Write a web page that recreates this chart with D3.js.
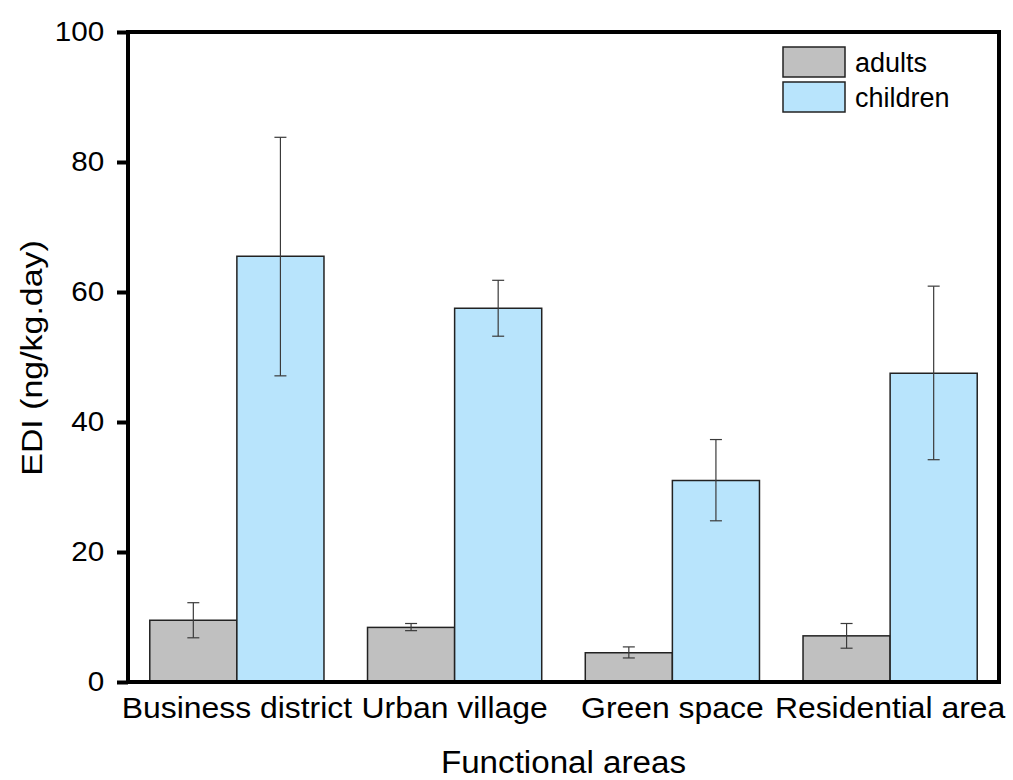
<!DOCTYPE html>
<html>
<head>
<meta charset="utf-8">
<script src="https://cdn.jsdelivr.net/npm/d3@7"></script>
<style>
  html, body { margin: 0; padding: 0; background: #fff; }
  svg { display: block; font-family: "Liberation Sans", Arial, sans-serif; }
</style>
</head>
<body>
<svg id="chart" width="1013" height="780"></svg>
<script>
// EDI by functional area, adults vs children (mean with lower/upper error bounds)
const categories = ["Business district", "Urban village", "Green space", "Residential area"];
const seriesNames = ["adults", "children"];
const adultsMean = [9.5, 8.4, 4.5, 7.1];
const adultsLow  = [6.8, 7.9, 3.7, 5.2];
const adultsHigh = [12.2, 9.0, 5.4, 9.0];
const childrenMean = [65.5, 57.5, 31.0, 47.5];
const childrenLow  = [47.1, 53.2, 24.8, 34.2];
const childrenHigh = [83.8, 61.8, 37.3, 60.9];
const yTicks = [0, 20, 40, 60, 80, 100];

const colors = { adults: "#c0c0c0", children: "#b8e4fc" };
const FONT = "Liberation Sans, Arial, sans-serif";

const margin = { left: 128, right: 14, top: 32, bottom: 98 };
const W = 1013, H = 780;
const svg = d3.select("#chart");

const x0 = d3.scaleBand().domain(categories)
  .range([margin.left, W - margin.right]).paddingInner(0).paddingOuter(0);
const x1 = d3.scaleBand().domain(seriesNames)
  .range([0, x0.bandwidth()]).paddingInner(0).paddingOuter(0.25);
const y = d3.scaleLinear().domain([0, 100]).range([H - margin.bottom, margin.top]);

const rows = categories.map((c, i) => ({
  cat: c,
  vals: [
    { key: "adults", v: adultsMean[i], lo: adultsLow[i], hi: adultsHigh[i] },
    { key: "children", v: childrenMean[i], lo: childrenLow[i], hi: childrenHigh[i] }
  ]
}));

// bars
const groups = svg.append("g").selectAll("g").data(rows).join("g")
  .attr("transform", d => `translate(${x0(d.cat)},0)`);

groups.selectAll("rect").data(d => d.vals).join("rect")
  .attr("x", d => x1(d.key))
  .attr("y", d => y(d.v))
  .attr("width", x1.bandwidth())
  .attr("height", d => y(0) - y(d.v))
  .attr("fill", d => colors[d.key])
  .attr("stroke", "#222")
  .attr("stroke-width", 1.5);

// error bars
const capHalf = 6;
const cx = d => x1(d.key) + x1.bandwidth() / 2;
const eb = groups.selectAll("g.err").data(d => d.vals).join("g").attr("class", "err")
  .attr("stroke", "#3a3a3a").attr("stroke-width", 1.2);
eb.append("line")
  .attr("x1", cx).attr("x2", cx)
  .attr("y1", d => y(d.lo)).attr("y2", d => y(d.hi));
eb.append("line")
  .attr("x1", d => cx(d) - capHalf).attr("x2", d => cx(d) + capHalf)
  .attr("y1", d => y(d.hi)).attr("y2", d => y(d.hi));
eb.append("line")
  .attr("x1", d => cx(d) - capHalf).attr("x2", d => cx(d) + capHalf)
  .attr("y1", d => y(d.lo)).attr("y2", d => y(d.lo));

// frame
svg.append("rect")
  .attr("x", margin.left).attr("y", margin.top)
  .attr("width", W - margin.right - margin.left)
  .attr("height", H - margin.bottom - margin.top)
  .attr("fill", "none").attr("stroke", "#000").attr("stroke-width", 4);

// y axis
const yAxis = svg.append("g")
  .attr("transform", `translate(${margin.left},0)`)
  .call(d3.axisLeft(y).tickValues(yTicks).tickSize(11));
yAxis.select(".domain").remove();
yAxis.selectAll(".tick line").attr("stroke", "#000").attr("stroke-width", 4);
yAxis.selectAll(".tick text")
  .attr("font-size", 28).attr("font-family", FONT).attr("fill", "#000")
  .attr("x", -22.5).attr("dy", "0.3em")
  .attr("transform", "scale(1.06,1)");

// x axis category labels
const xAxis = svg.append("g")
  .attr("transform", `translate(0,${H - margin.bottom})`)
  .call(d3.axisBottom(x0).tickSize(0));
xAxis.select(".domain").remove();
xAxis.selectAll(".tick text")
  .attr("font-size", 29).attr("font-family", FONT).attr("fill", "#000")
  .attr("y", 36).attr("dy", 0)
  .attr("transform", "scale(1.1,1)");

// axis titles
svg.append("text")
  .attr("transform", `translate(${(margin.left + W - margin.right) / 2},773) scale(1.07,1)`)
  .attr("text-anchor", "middle").attr("font-size", 31).attr("fill", "#000")
  .text("Functional areas");
svg.append("text")
  .attr("transform", `translate(42,358) rotate(-90) scale(1.13,1)`)
  .attr("text-anchor", "middle").attr("font-size", 30).attr("fill", "#000")
  .text("EDI (ng/kg.day)");

// legend
const legend = svg.append("g").attr("transform", "translate(783,47)");
const li = legend.selectAll("g").data(seriesNames).join("g")
  .attr("transform", (d, i) => `translate(0,${i * 35})`);
li.append("rect").attr("width", 62).attr("height", 30)
  .attr("fill", d => colors[d]).attr("stroke", "#222").attr("stroke-width", 1.5);
li.append("text").attr("x", 72).attr("y", 24.5)
  .attr("font-size", 27).attr("fill", "#000").text(d => d);
</script>
</body>
</html>
